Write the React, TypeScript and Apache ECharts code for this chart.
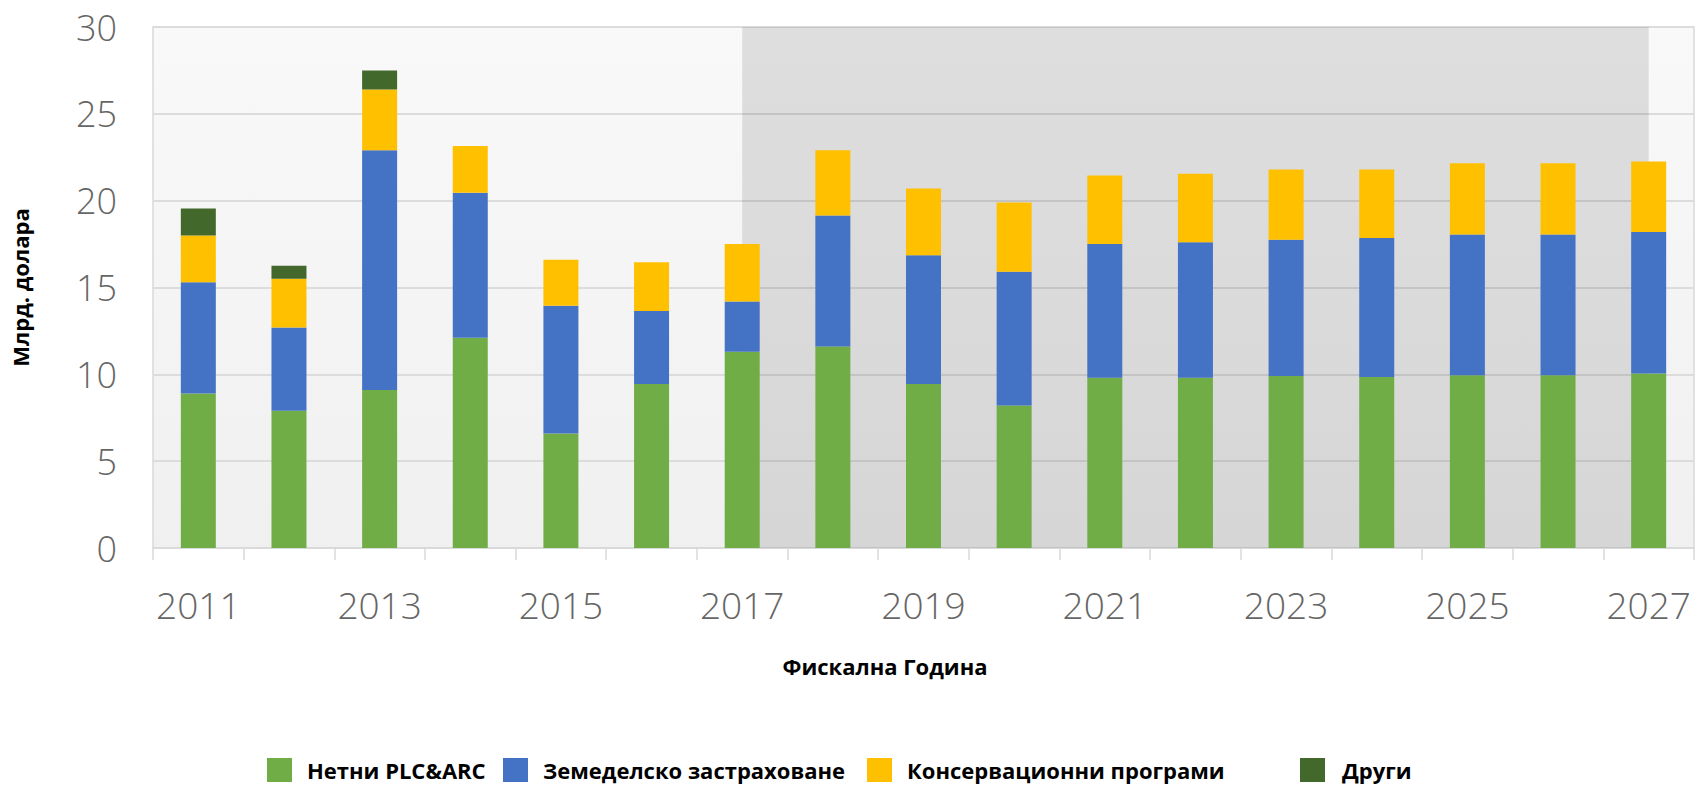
import React, { useEffect, useRef } from 'react';
import * as echarts from 'echarts';

const years = ['2011', '2012', '2013', '2014', '2015', '2016', '2017', '2018', '2019', '2020', '2021', '2022', '2023', '2024', '2025', '2026', '2027'];
const netPlcArc = [8.9, 7.9, 9.1, 12.1, 6.6, 9.45, 11.3, 11.6, 9.45, 8.2, 9.8, 9.8, 9.9, 9.85, 9.95, 9.95, 10.05];
const cropInsurance = [6.4, 4.8, 13.8, 8.35, 7.35, 4.2, 2.9, 7.55, 7.4, 7.7, 7.7, 7.8, 7.85, 8.0, 8.1, 8.1, 8.15];
const conservation = [2.7, 2.8, 3.5, 2.7, 2.65, 2.8, 3.3, 3.75, 3.85, 4.0, 3.95, 3.95, 4.05, 3.95, 4.1, 4.1, 4.05];
const other = [1.55, 0.75, 1.1, null, null, null, null, null, null, null, null, null, null, null, null, null, null];
const yTicks = { min: 0, max: 30, interval: 5 };
const projectionRange = ['2017', '2027'];

const seriesNames = ['Нетни PLC&ARC', 'Земеделско застраховане', 'Консервационни програми', 'Други'];
const colors = ['#70ad47', '#4472c4', '#ffc000', '#43682b'];

const FONT = '"Open Sans", "DejaVu Sans", sans-serif';

export default function App() {
  const ref = useRef<HTMLDivElement>(null);
  useEffect(() => {
    if (!ref.current) return;
    const chart = echarts.init(ref.current, null, { renderer: 'svg' });
    const legendBase = {
      icon: 'rect',
      itemWidth: 25,
      itemHeight: 24,
      padding: 0,
      top: 758,
      selectedMode: false,
      textStyle: { fontFamily: FONT, fontWeight: 'bold', fontSize: 22, color: '#000', padding: [0, 0, 0, 10] },
    };
    const values = [netPlcArc, cropInsurance, conservation, other];
    chart.setOption({
      animation: false,
      backgroundColor: '#ffffff',
      grid: {
        left: 153,
        right: 8,
        top: 27,
        bottom: 240,
        show: true,
        borderColor: '#d9d9d9',
        borderWidth: 1.5,
        backgroundColor: new echarts.graphic.LinearGradient(0, 0, 0, 1, [
          { offset: 0, color: '#f9f9f9' },
          { offset: 1, color: '#f0f0f0' },
        ]),
      },
      legend: [
        { ...legendBase, left: 267, data: [seriesNames[0]] },
        { ...legendBase, left: 503, data: [seriesNames[1]] },
        { ...legendBase, left: 867, data: [seriesNames[2]] },
        {
          ...legendBase,
          left: 1300,
          data: [seriesNames[3]],
          textStyle: { ...legendBase.textStyle, padding: [0, 0, 0, 12], verticalAlign: 'bottom', lineHeight: 12 },
        },
      ],
      xAxis: {
        type: 'category',
        data: years,
        boundaryGap: true,
        axisLine: { show: true, lineStyle: { color: '#d9d9d9', width: 1.5 } },
        axisTick: { show: true, interval: 0, length: 12, lineStyle: { color: '#d9d9d9', width: 1.5 } },
        axisLabel: {
          interval: 1,
          margin: 38,
          fontFamily: FONT,
          fontWeight: 300,
          fontSize: 37,
          color: '#666666',
        },
        splitLine: { show: false },
      },
      yAxis: {
        type: 'value',
        min: yTicks.min,
        max: yTicks.max,
        interval: yTicks.interval,
        name: 'Млрд. долара',
        nameLocation: 'middle',
        nameGap: 122,
        nameRotate: 90,
        nameTextStyle: { fontFamily: FONT, fontWeight: 'bold', fontSize: 22, color: '#000' },
        axisLine: { show: false },
        axisTick: { show: false },
        axisLabel: { margin: 36, fontFamily: FONT, fontWeight: 300, fontSize: 36, color: '#666666' },
        splitLine: { show: true, lineStyle: { color: '#dcdcdc', width: 2 } },
      },
      graphic: [
        {
          type: 'text',
          x: 885,
          y: 666,
          style: {
            text: 'Фискална Година',
            fontFamily: FONT,
            fontWeight: 'bold',
            fontSize: 22,
            fill: '#000',
            align: 'center',
            verticalAlign: 'middle',
            textAlign: 'center',
            textVerticalAlign: 'middle',
          },
        },
      ],
      series: [
        {
          type: 'line',
          data: [],
          z: 1,
          silent: true,
          markArea: {
            silent: true,
            itemStyle: { color: 'rgba(0,0,0,0.105)' },
            data: [[{ xAxis: projectionRange[0] }, { xAxis: projectionRange[1] }]],
          },
        },
        ...seriesNames.map((name, i) => ({
          name,
          type: 'bar',
          stack: 'total',
          barWidth: 35,
          z: 3,
          data: values[i],
          itemStyle: { color: colors[i] },
        })),
      ],
    });
    return () => chart.dispose();
  }, []);
  return <div ref={ref} style={{ position: 'fixed', left: 0, top: 0, width: 1702, height: 788 }} />;
}
